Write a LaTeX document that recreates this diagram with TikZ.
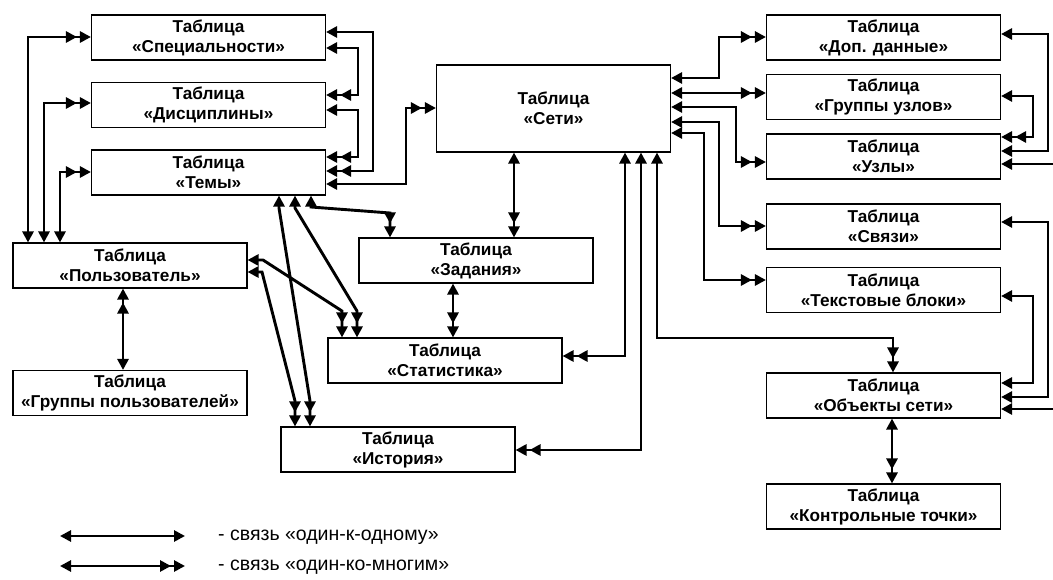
\documentclass[tikz,border=0pt]{standalone}
\usepackage{fontspec}
\setmainfont{Liberation Sans}
\usetikzlibrary{arrows.meta}
\begin{document}
\begin{tikzpicture}[x=1pt,y=-1pt,
  tbl/.style={draw, line width=1.1pt, fill=white, align=center, inner sep=0pt,
    minimum width=234pt, minimum height=45pt,
    font=\bfseries\fontsize{17.2}{20}\selectfont},
  link/.style={line width=2.9pt},
  legtext/.style={anchor=west, inner sep=0pt, font=\fontsize{19.5}{22}\selectfont},
  T/.tip={Triangle[length=11pt,width=11pt]},
  TT/.tip={Triangle[length=11pt,width=11pt,sep=3pt]Triangle[length=11pt,width=11pt]},
]
\fill[white] (0,0) rectangle (1053,580);
\useasboundingbox (0,0) rectangle (1053,580);

% tables
\node[tbl] (spec) at (208.5,37.5)  {Таблица\\«Специальности»};
\node[tbl] (disc) at (208.5,105)   {Таблица\\«Дисциплины»};
\node[tbl] (temy) at (208.5,172.5) {Таблица\\«Темы»};
\node[tbl, minimum height=87pt] (seti) at (553.5,108.5) {Таблица\\«Сети»};
\node[tbl] (zad)  at (476,260.5)   {Таблица\\«Задания»};
\node[tbl] (stat) at (445,360.5)   {Таблица\\«Статистика»};
\node[tbl] (ist)  at (398,449.5)   {Таблица\\«История»};
\node[tbl] (polz) at (130,265.5)   {Таблица\\«Пользователь»};
\node[tbl] (grp)  at (130,393)     {Таблица\\«Группы пользователей»};
\node[tbl] (dop)  at (883.5,37.5)  {Таблица\\«Доп. данные»};
\node[tbl] (gu)   at (883.5,97)    {Таблица\\«Группы узлов»};
\node[tbl] (uz)   at (883.5,156.5) {Таблица\\«Узлы»};
\node[tbl] (sv)   at (883.5,226.5) {Таблица\\«Связи»};
\node[tbl] (tb)   at (883.5,290)   {Таблица\\«Текстовые блоки»};
\node[tbl] (obj)  at (883.5,395.5) {Таблица\\«Объекты сети»};
\node[tbl] (kt)   at (883.5,506.5) {Таблица\\«Контрольные точки»};

% user -> left column
\draw[link,T-TT] (polz.north -| 28,0) |- (spec.west |- 0,37);
\draw[link,T-TT] (polz.north -| 44,0) |- (disc.west |- 0,103);
\draw[link,T-TT] (polz.north -| 60,0) |- (temy.west |- 0,172);

% links inside the left column
\draw[link,T-TT] (spec.east |- 0,32)  -| (373,171) -- (temy.east |- 0,171);
\draw[link,T-TT] (spec.east |- 0,48)  -| (358,95)  -- (disc.east |- 0,95);
\draw[link,T-TT] (disc.east |- 0,110) -| (358,157) -- (temy.east |- 0,157);
\draw[link,T-TT] (temy.east |- 0,184) -| (406,108) -- (seti.west |- 0,108);

% vertical links
\draw[link,T-TT] (seti.south -| 514,0) -- (zad.north -| 514,0);
\draw[link,T-TT] (zad.south -| 453,0)  -- (stat.north -| 453,0);
\draw[link,TT-T] (polz.south -| 123,0) -- (grp.north -| 123,0);
\draw[link,T-TT] (obj.south -| 892,0)  -- (kt.north -| 892,0);

% from the bottom of "Темы"
\draw[link,T-TT] (temy.south -| 279,0) -- (279,208) -- (310,401) -- (ist.north -| 310,0);
\draw[link,T-TT] (temy.south -| 295,0) -- (295,208) -- (357,311) -- (stat.north -| 357,0);
\draw[link,T-TT] (temy.south -| 311,0) -- (311,207) -- (390,213) -- (zad.north -| 390,0);

% from the right of "Пользователь"
\draw[link,T-TT] (polz.east |- 0,260) -- (263,260) -- (342,311) -- (stat.north -| 342,0);
\draw[link,T-TT] (polz.east |- 0,272) -- (262,272) -- (295,401) -- (ist.north -| 295,0);

% from the bottom of "Сети"
\draw[link,T-TT] (seti.south -| 625,0) |- (stat.east |- 0,356);
\draw[link,T-TT] (seti.south -| 641,0) |- (ist.east |- 0,450);
\draw[link,T-TT] (seti.south -| 657,0) |- (893,338) -- (obj.north -| 893,0);

% from the right of "Сети"
\draw[link,T-TT] (seti.east |- 0,78)  -| (719,37)  -- (dop.west |- 0,37);
\draw[link,T-TT] (seti.east |- 0,93)  -- (gu.west |- 0,93);
\draw[link,T-TT] (seti.east |- 0,107) -| (736,162) -- (uz.west |- 0,162);
\draw[link,T-TT] (seti.east |- 0,122) -| (719,226) -- (sv.west |- 0,226);
\draw[link,T-TT] (seti.east |- 0,133) -| (704,280) -- (tb.west |- 0,280);

% right-hand loops
\coordinate (offU) at (1053,164);
\coordinate (offO) at (1053,409);
\draw[link,T-T]  (dop.east |- 0,34) -| (1048,151) -- (uz.east |- 0,151);
\draw[link,T-TT] (gu.east |- 0,96)  -| (1033,137) -- (uz.east |- 0,137);
\draw[link,-T]   (offU) -- (uz.east |- offU);
\draw[link,T-T]  (sv.east |- 0,222) -| (1048,397) -- (obj.east |- 0,397);
\draw[link,T-T]  (tb.east |- 0,296) -| (1033,383) -- (obj.east |- 0,383);
\draw[link,-T]   (offO) -- (obj.east |- offO);

% legend
\coordinate (la1) at (60,536);  \coordinate (lb1) at (185,536);
\coordinate (la2) at (60,566);  \coordinate (lb2) at (185,566);
\draw[link,T-T]  (la1) -- (lb1);
\draw[link,T-TT] (la2) -- (lb2);
\node[legtext] (lt1) at (218,537) {- связь «один-к-одному»};
\node[legtext] (lt2) at (218,567) {- связь «один-ко-многим»};
\end{tikzpicture}
\end{document}
